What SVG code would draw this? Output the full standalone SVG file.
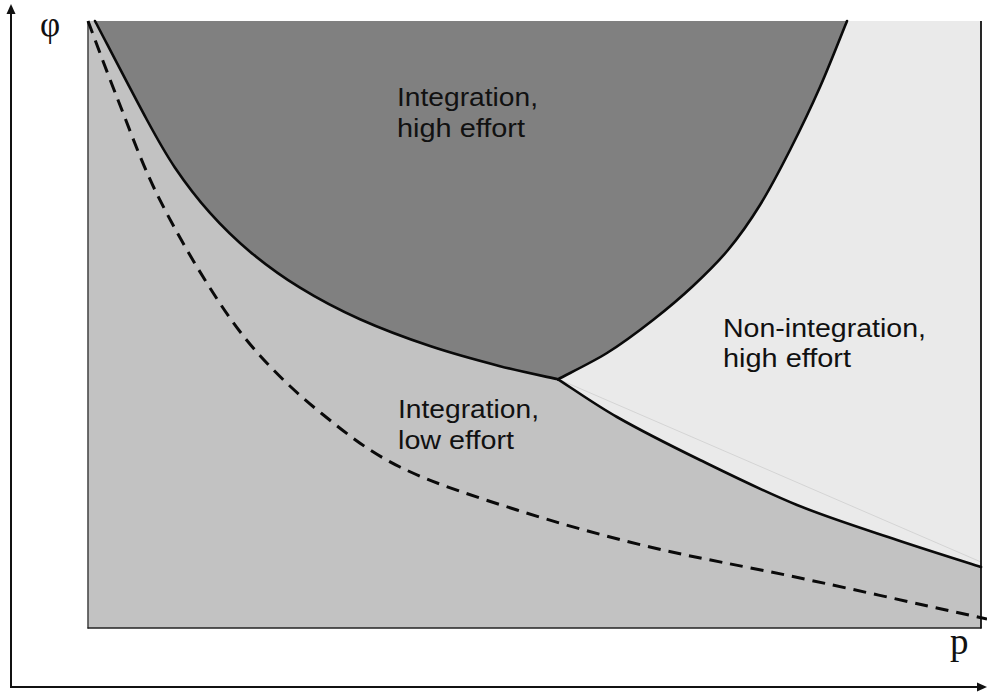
<svg xmlns="http://www.w3.org/2000/svg" width="987" height="692" viewBox="0 0 987 692">
  <defs>
    <style>
      .boundary { fill: none; stroke: #0a0a0a; stroke-width: 2.6; stroke-linejoin: round; stroke-linecap: round; }
      .threshold { fill: none; stroke: #0a0a0a; stroke-width: 3; stroke-dasharray: 13 8; }
      .axis { fill: none; stroke: #111; stroke-width: 2; }
      .label { font-family: "Liberation Sans", Arial, sans-serif; font-size: 26px; fill: #111; }
      .var { font-family: "Liberation Serif", "Times New Roman", serif; fill: #111; }
    </style>
  </defs>

  <rect width="987" height="692" fill="#ffffff"/>

  <!-- regions of the (p, phi) plane -->
  <g id="regions">
    <rect id="region-low-effort" x="88" y="21" width="893" height="607" fill="#c2c2c2"/>
    <path id="region-high-effort" fill="#808080"
      d="M95,21 C103.7,37.5 133.7,95.6 147,120 C160.3,144.5 164.5,152.2 175,167.7 C185.5,183.2 197.5,198.9 210,212.9 C222.5,226.9 235,239.2 250,251.7 C265,264.2 281.7,276.4 300,287.7 C318.3,299 338.3,309.6 360,319.3 C381.7,329 406.7,338.3 430,346.1 C453.3,353.9 478.7,360.7 500,366.2 C521.3,371.7 548.3,377.1 558,379.3
         C566.2,374.7 591.2,362.8 607,353 C622.8,343.2 638.7,331.2 653,320 C667.3,308.8 680.5,297.7 693,286 C705.5,274.3 716.8,263.5 728,250 C739.2,236.5 749.7,221.7 760,205 C770.3,188.3 780,169.7 790,150 C800,130.3 810.5,108.5 820,87 C829.5,65.5 842.5,32 847,21 Z"/>
    <path id="region-non-integration" fill="#eaeaea"
      d="M558,379.3 C566.2,374.7 591.2,362.8 607,353 C622.8,343.2 638.7,331.2 653,320 C667.3,308.8 680.5,297.7 693,286 C705.5,274.3 716.8,263.5 728,250 C739.2,236.5 749.7,221.7 760,205 C770.3,188.3 780,169.7 790,150 C800,130.3 810.5,108.5 820,87 C829.5,65.5 842.5,32 847,21
         L981,21 L981,567
         C967,562.5 927.7,550.3 897,540 C866.3,529.7 829.8,518.3 797,505 C764.2,491.7 730,474.7 700,460 C670,445.3 640.7,430.5 617,417 C593.3,403.5 567.8,385.3 558,379.3 Z"/>
    <line x1="558" y1="379" x2="981" y2="562" stroke="#d4d4d4" stroke-width="1"/>
  </g>

  <!-- plot frame -->
  <g id="frame">
    <line x1="88" y1="21" x2="88" y2="628.5" stroke="#4a4a4a" stroke-width="1.6"/>
    <line x1="87.5" y1="628" x2="981.5" y2="628" stroke="#222" stroke-width="1.6"/>
    <line x1="981" y1="21" x2="981" y2="628.5" stroke="#111" stroke-width="1.8"/>
  </g>

  <!-- boundaries between regions -->
  <g id="connectors">
    <path id="boundary-upper-left" class="boundary"
      d="M95,21 C103.7,37.5 133.7,95.6 147,120 C160.3,144.5 164.5,152.2 175,167.7 C185.5,183.2 197.5,198.9 210,212.9 C222.5,226.9 235,239.2 250,251.7 C265,264.2 281.7,276.4 300,287.7 C318.3,299 338.3,309.6 360,319.3 C381.7,329 406.7,338.3 430,346.1 C453.3,353.9 478.7,360.7 500,366.2 C521.3,371.7 548.3,377.1 558,379.3"/>
    <path id="boundary-upper-right" class="boundary"
      d="M558,379.3 C566.2,374.7 591.2,362.8 607,353 C622.8,343.2 638.7,331.2 653,320 C667.3,308.8 680.5,297.7 693,286 C705.5,274.3 716.8,263.5 728,250 C739.2,236.5 749.7,221.7 760,205 C770.3,188.3 780,169.7 790,150 C800,130.3 810.5,108.5 820,87 C829.5,65.5 842.5,32 847,21"/>
    <path id="boundary-lower-right" class="boundary"
      d="M558,379.3 C567.8,385.3 593.3,403.5 617,417 C640.7,430.5 670,445.3 700,460 C730,474.7 764.2,491.7 797,505 C829.8,518.3 866.3,529.7 897,540 C927.7,550.3 967,562.5 981,567"/>
    <path id="threshold-dashed" class="threshold"
      d="M88,21 C93,34.2 106.8,71.8 118,100 C129.2,128.2 140.5,160 155,190 C169.5,220 188.3,253.3 205,280 C221.7,306.7 235.7,327.8 255,350 C274.3,372.2 296.8,393.5 321,413 C345.2,432.5 367.3,450.8 400,467 C432.7,483.2 475.3,496.7 517,510 C558.7,523.3 602.8,535.7 650,547 C697.2,558.3 743.8,566 800,578 C856.2,590 955.8,612.2 987,619"/>
  </g>

  <!-- axes -->
  <g id="axes">
    <line class="axis" x1="11" y1="688" x2="11" y2="12"/>
    <polygon points="11,4 6.5,14 15.5,14" fill="#111"/>
    <line class="axis" x1="10" y1="687" x2="978" y2="687"/>
    <polygon points="987,687 977,682.5 977,691.5" fill="#111"/>
    <text class="var" x="40" y="36" font-size="35">φ</text>
    <text class="var" x="950" y="654" font-size="37">p</text>
  </g>

  <!-- region labels -->
  <g id="label-integration-high">
    <text class="label" x="397" y="106" textLength="141" lengthAdjust="spacingAndGlyphs">Integration,</text>
    <text class="label" x="397" y="136.5" textLength="128" lengthAdjust="spacingAndGlyphs">high effort</text>
  </g>
  <g id="label-integration-low">
    <text class="label" x="398" y="418" textLength="141" lengthAdjust="spacingAndGlyphs">Integration,</text>
    <text class="label" x="398" y="449" textLength="116" lengthAdjust="spacingAndGlyphs">low effort</text>
  </g>
  <g id="label-non-integration-high">
    <text class="label" x="723" y="337" textLength="203" lengthAdjust="spacingAndGlyphs">Non-integration,</text>
    <text class="label" x="723" y="367" textLength="128" lengthAdjust="spacingAndGlyphs">high effort</text>
  </g>
</svg>
